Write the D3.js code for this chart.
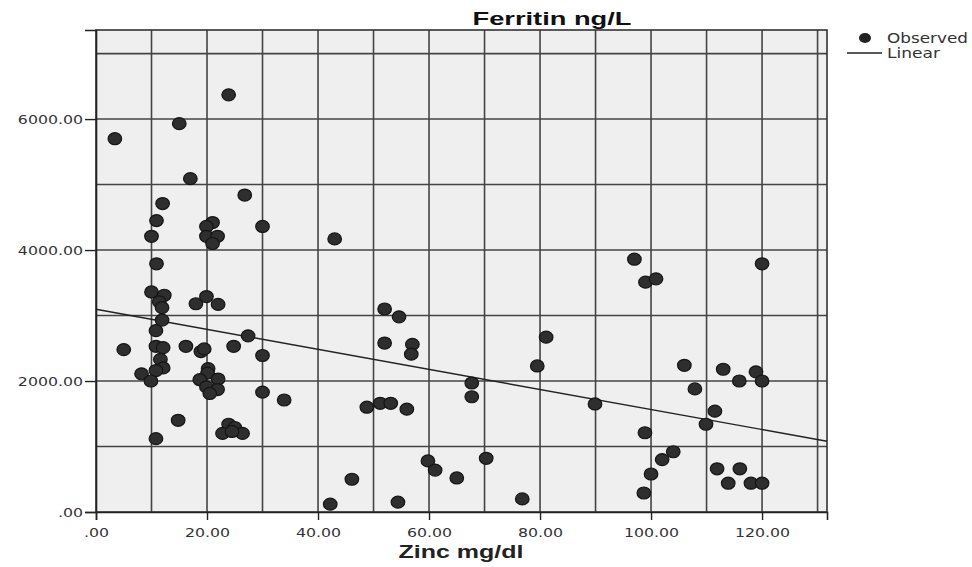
<!DOCTYPE html>
<html>
<head>
<meta charset="utf-8">
<script src="https://cdn.jsdelivr.net/npm/d3@7"></script>
<style>
  body { margin: 0; background: #fff; }
  svg { display: block; }
</style>
</head>
<body>
<script>
// zinc (x) and ferritin (y)
var zinc = [3.4, 15, 23.9, 17, 26.8, 12, 10.9, 21, 19.9, 30, 10, 19.9, 21.9, 21, 10.9,
  43, 10, 12.3, 11.4, 11.9, 18, 19.9, 22, 11.9, 10.8, 27.4, 5, 10.8, 12.1, 16.2,
  18.9, 19.5, 24.8, 30, 11.6, 12.1, 10.8, 8.2, 9.9, 20.2, 20.1, 18.7, 22, 19.9,
  21.9, 20.5, 30, 33.9, 14.8, 23.9, 25, 22.8, 26.4, 24.5, 10.8,
  52, 54.6, 52, 57, 56.8, 67.7, 67.7, 48.8, 51.2, 53.1, 56, 81.1, 79.5, 89.9,
  59.8, 61.1, 65, 70.3, 46.1, 42.2, 54.4, 76.8,
  97, 99, 100.9, 120, 106, 113, 118.9, 115.9, 120, 107.9, 111.5, 109.9, 98.9,
  104, 102, 100, 111.9, 116, 113.9, 118, 120, 98.7];
var ferritin = [5700, 5930, 6370, 5090, 4840, 4710, 4450, 4420, 4360, 4360, 4210, 4210, 4210, 4100, 3790,
  4170, 3360, 3310, 3210, 3120, 3180, 3290, 3170, 2930, 2770, 2690, 2480, 2530, 2510, 2530,
  2450, 2490, 2530, 2390, 2330, 2200, 2160, 2110, 2000, 2190, 2120, 2020, 2030, 1910,
  1870, 1810, 1830, 1710, 1400, 1340, 1290, 1200, 1200, 1230, 1120,
  3100, 2980, 2580, 2560, 2410, 1970, 1760, 1600, 1660, 1660, 1570, 2670, 2230, 1650,
  780, 640, 520, 820, 500, 120, 150, 200,
  3860, 3510, 3560, 3790, 2240, 2180, 2140, 2000, 2000, 1880, 1540, 1340, 1210,
  920, 800, 580, 660, 660, 440, 440, 440, 290];

// linear fit end points
var linearX = [0, 131.7];
var linearY = [3095, 1080];

var xTicks = [0, 20, 40, 60, 80, 100, 120];
var yTicks = [0, 2000, 4000, 6000];
var xGrid = [10, 20, 30, 40, 50, 60, 70, 80, 90, 100, 110, 120, 130];
var yGrid = [1000, 2000, 3000, 4000, 5000, 6000, 7000];

var width = 972, height = 567;
var margin = {top: 30, right: 145, bottom: 55, left: 96};

var svg = d3.select("body").append("svg")
    .attr("width", width)
    .attr("height", height);

var x = d3.scaleLinear().domain([0, 131.7]).range([margin.left, width - margin.right]);
var y = d3.scaleLinear().domain([0, 7360]).range([height - margin.bottom, margin.top]);

var fmt = function(d) { return d === 0 ? ".00" : d3.format(".2f")(d); };

// the picture is stretched sideways, so widen the texts the same way
function widen(sel, k) {
  sel.each(function() {
    var w = this.getComputedTextLength();
    d3.select(this).attr("textLength", w * k).attr("lengthAdjust", "spacingAndGlyphs");
  });
}

// plot background
svg.append("rect")
    .attr("x", x(0)).attr("y", y(7360))
    .attr("width", x(131.7) - x(0))
    .attr("height", y(0) - y(7360))
    .attr("fill", "#efefef");

// grid
svg.append("g").selectAll("line").data(xGrid).enter().append("line")
    .attr("x1", function(d) { return x(d); }).attr("x2", function(d) { return x(d); })
    .attr("y1", y(0)).attr("y2", y(7360))
    .attr("stroke", "#444").attr("stroke-width", 1.6);
svg.append("g").selectAll("line").data(yGrid).enter().append("line")
    .attr("y1", function(d) { return y(d); }).attr("y2", function(d) { return y(d); })
    .attr("x1", x(0)).attr("x2", x(131.7))
    .attr("stroke", "#444").attr("stroke-width", 1.6);

svg.append("rect")
    .attr("x", x(0)).attr("y", y(7360))
    .attr("width", x(131.7) - x(0))
    .attr("height", y(0) - y(7360))
    .attr("fill", "none").attr("stroke", "#333").attr("stroke-width", 1.6);

// axes
var xAxis = svg.append("g")
    .attr("transform", "translate(0," + y(0) + ")")
    .call(d3.axisBottom(x).tickValues(xTicks).tickFormat(fmt).tickSize(8));
var yAxis = svg.append("g")
    .attr("transform", "translate(" + x(0) + ",0)")
    .call(d3.axisLeft(y).tickValues(yTicks).tickFormat(fmt).tickSize(11).tickPadding(2));

[xAxis, yAxis].forEach(function(a) {
  a.select(".domain").attr("stroke", "#222").attr("stroke-width", 1.6);
  a.selectAll(".tick line").attr("stroke", "#222").attr("stroke-width", 1.4);
  a.selectAll("text")
    .attr("font-family", "DejaVu Sans, sans-serif")
    .attr("font-size", 12.5)
    .attr("fill", "#333")
    .call(widen, 1.26);
});
xAxis.selectAll("text").attr("dy", "1.1em");

// linear fit
svg.append("line")
    .attr("x1", x(linearX[0])).attr("y1", y(linearY[0]))
    .attr("x2", x(linearX[1])).attr("y2", y(linearY[1]))
    .attr("stroke", "#222").attr("stroke-width", 1.4);

// observed points
svg.append("g").selectAll("ellipse")
    .data(zinc.map(function(d, i) { return [d, ferritin[i]]; }))
  .enter().append("ellipse")
    .attr("cx", function(d) { return x(d[0]); })
    .attr("cy", function(d) { return y(d[1]); })
    .attr("rx", 6.8).attr("ry", 6)
    .attr("fill", "#2e2e2e")
    .attr("stroke", "#151515").attr("stroke-width", 1.2);

// titles
svg.append("text")
    .attr("x", 552).attr("y", 25)
    .attr("text-anchor", "middle")
    .attr("font-family", "Liberation Sans, Arial, sans-serif")
    .attr("font-weight", "bold")
    .attr("font-size", 18)
    .attr("fill", "#111")
    .attr("textLength", 159).attr("lengthAdjust", "spacingAndGlyphs")
    .text("Ferritin ng/L");

svg.append("text")
    .attr("x", 461).attr("y", 558)
    .attr("text-anchor", "middle")
    .attr("font-family", "Liberation Sans, Arial, sans-serif")
    .attr("font-weight", "bold")
    .attr("font-size", 18)
    .attr("fill", "#222")
    .attr("textLength", 125).attr("lengthAdjust", "spacingAndGlyphs")
    .text("Zinc mg/dl");

// legend
var lg = svg.append("g");
lg.append("ellipse").attr("cx", 865).attr("cy", 38).attr("rx", 6).attr("ry", 5).attr("fill", "#222");
lg.append("text").attr("x", 887).attr("y", 43)
    .attr("font-family", "DejaVu Sans, sans-serif")
    .attr("font-size", 14).attr("fill", "#333")
    .attr("textLength", 81).attr("lengthAdjust", "spacingAndGlyphs")
    .text("Observed");
lg.append("line").attr("x1", 847).attr("x2", 882).attr("y1", 53).attr("y2", 53)
    .attr("stroke", "#222").attr("stroke-width", 1.4);
lg.append("text").attr("x", 887).attr("y", 58)
    .attr("font-family", "DejaVu Sans, sans-serif")
    .attr("font-size", 14).attr("fill", "#333")
    .attr("textLength", 53).attr("lengthAdjust", "spacingAndGlyphs")
    .text("Linear");
</script>
</body>
</html>
